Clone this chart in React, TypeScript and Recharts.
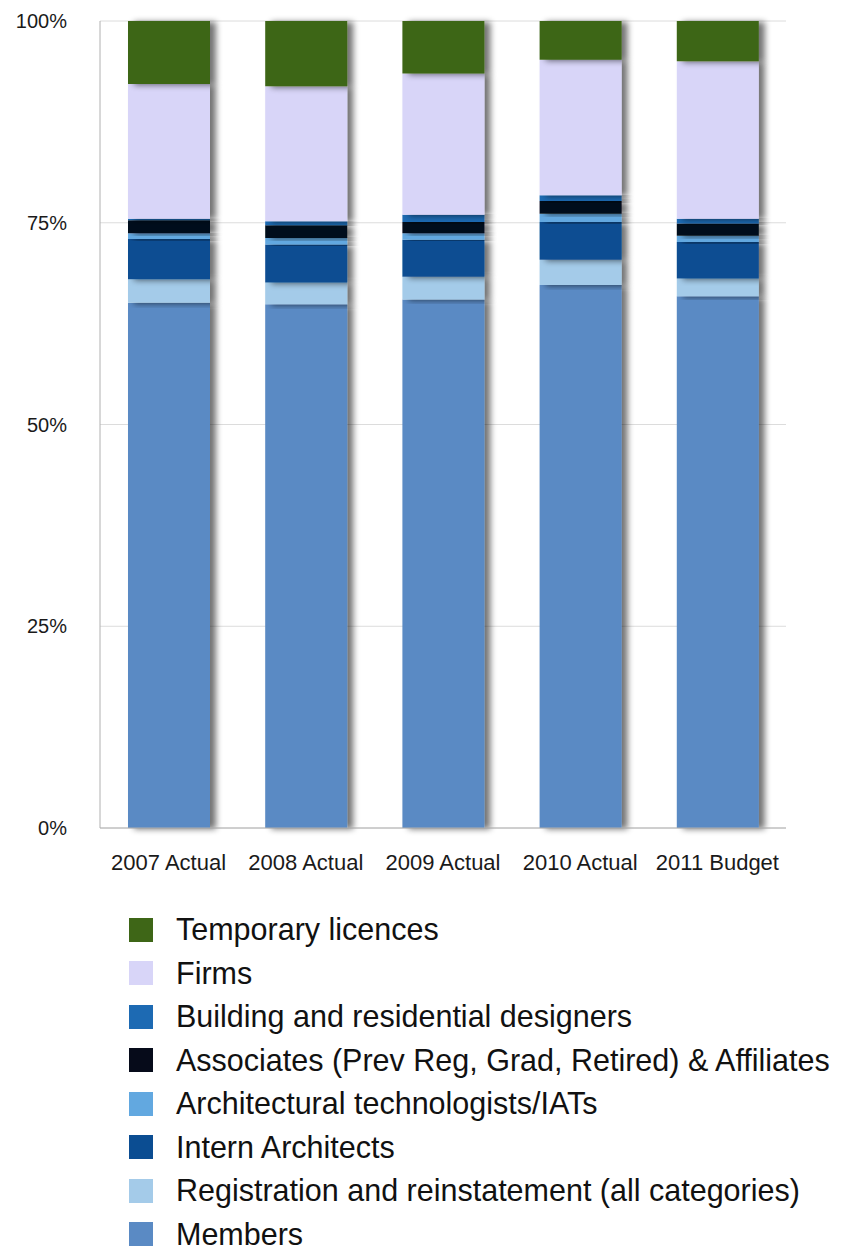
import React from "react";
import { Bar, BarChart, CartesianGrid, XAxis, YAxis } from "recharts";

const YEARS = ["2007 Actual", "2008 Actual", "2009 Actual", "2010 Actual", "2011 Budget"];

const MEMBERS = [65.1, 64.9, 65.5, 67.3, 65.9];
const REGISTRATION = [2.9, 2.7, 2.8, 3.1, 2.2];
const INTERNS = [5.0, 4.7, 4.6, 4.7, 4.5];
const ARCH_TECH = [0.7, 0.8, 0.8, 1.0, 0.8];
const ASSOCIATES = [1.6, 1.6, 1.4, 1.6, 1.5];
const BUILDING = [0.2, 0.5, 0.9, 0.7, 0.6];
const FIRMS = [16.7, 16.7, 17.5, 16.8, 19.5];
const TEMPORARY = [7.8, 8.1, 6.5, 4.8, 5.0];

const Y_TICKS = [0, 25, 50, 75, 100];

// stack order, bottom to top
const SERIES = [
  { key: "members", name: "Members", values: MEMBERS, color: "#5a8ac4" },
  { key: "registration", name: "Registration and reinstatement (all categories)", values: REGISTRATION, color: "#a4cbe9" },
  { key: "interns", name: "Intern Architects", values: INTERNS, color: "#0b4d92" },
  { key: "archTech", name: "Architectural technologists/IATs", values: ARCH_TECH, color: "#62a8e0" },
  { key: "associates", name: "Associates (Prev Reg, Grad, Retired) & Affiliates", values: ASSOCIATES, color: "#060b1a" },
  { key: "building", name: "Building and residential designers", values: BUILDING, color: "#1d6ab3" },
  { key: "firms", name: "Firms", values: FIRMS, color: "#d8d5f8" },
  { key: "temporary", name: "Temporary licences", values: TEMPORARY, color: "#3e6617" },
];

const data = YEARS.map((year, i) => {
  const row: Record<string, string | number> = { year };
  SERIES.forEach((s) => {
    row[s.key] = s.values[i];
  });
  return row;
});

const FONT = '"Liberation Sans", Arial, Helvetica, sans-serif';

export default function App() {
  return (
    <div
      style={{
        position: "absolute",
        left: 0,
        top: 0,
        width: 843,
        height: 1254,
        background: "#fff",
        fontFamily: FONT,
      }}
    >
      <BarChart
        width={843}
        height={900}
        data={data}
        margin={{ top: 21, right: 57, left: 0, bottom: 22 }}
      >
        <defs>
          <filter id="barShadow" x="-20%" y="-20%" width="150%" height="140%">
            <feGaussianBlur in="SourceAlpha" stdDeviation="3" />
            <feOffset dx="6" dy="1" result="off" />
            <feComponentTransfer>
              <feFuncA type="linear" slope="0.55" />
            </feComponentTransfer>
            <feMerge>
              <feMergeNode />
              <feMergeNode in="SourceGraphic" />
            </feMerge>
          </filter>
        </defs>
        <CartesianGrid vertical={false} stroke="#dcdcdc" />
        <XAxis
          dataKey="year"
          height={50}
          tickLine={false}
          tickSize={0}
          tickMargin={26}
          axisLine={{ stroke: "#b0b0b0" }}
          tick={{ fill: "#1a1a1a", fontSize: 22, fontFamily: FONT }}
        />
        <YAxis
          width={100}
          domain={[0, 100]}
          ticks={Y_TICKS}
          tickFormatter={(v) => `${v}%`}
          tickLine={false}
          tickSize={0}
          tickMargin={33}
          axisLine={{ stroke: "#b0b0b0" }}
          tick={{ fill: "#1a1a1a", fontSize: 20, fontFamily: FONT }}
        />
        {SERIES.map((s) => (
          <Bar
            key={s.key}
            dataKey={s.key}
            name={s.name}
            stackId="a"
            fill={s.color}
            barSize={82}
            filter="url(#barShadow)"
            isAnimationActive={false}
          />
        ))}
      </BarChart>
      <div style={{ position: "absolute", left: 129, top: 908 }}>
        {[...SERIES].reverse().map((s) => (
          <div
            key={s.key}
            style={{ display: "flex", alignItems: "center", height: 43.5 }}
          >
            <div style={{ width: 24, height: 24, background: s.color, marginRight: 23 }} />
            <span style={{ fontSize: 30.5, color: "#111", whiteSpace: "nowrap" }}>{s.name}</span>
          </div>
        ))}
      </div>
    </div>
  );
}
